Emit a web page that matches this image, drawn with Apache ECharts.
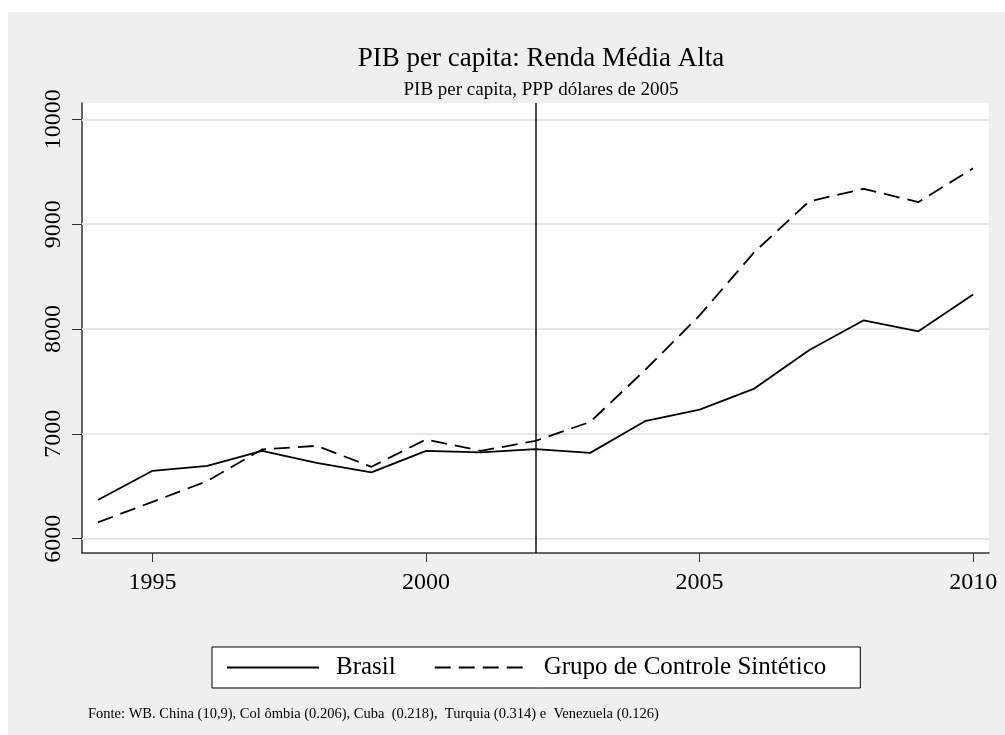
<!DOCTYPE html>
<html>
<head>
<meta charset="utf-8">
<script src="https://cdn.jsdelivr.net/npm/echarts@6/dist/echarts.min.js"></script>
<style>
  html, body { margin: 0; padding: 0; background: #fff; }
  #frame { position: absolute; left: 8px; top: 12px; right: 0; bottom: 0; background: #efefef; }
  #chart { position: absolute; left: 0; top: 0; width: 1005px; height: 735px; }
</style>
</head>
<body>
<div id="frame"></div>
<div id="chart"></div>
<script>
const years = [1994, 1995, 1996, 1997, 1998, 1999, 2000, 2001, 2002, 2003, 2004, 2005, 2006, 2007, 2008, 2009, 2010];
const brasil = [6369, 6648, 6695, 6838, 6724, 6632, 6838, 6823, 6854, 6819, 7121, 7232, 7432, 7797, 8083, 7978, 8328];
const sintetico = [6156, 6352, 6550, 6851, 6886, 6686, 6947, 6838, 6933, 7114, 7607, 8130, 8733, 9216, 9337, 9210, 9533];
const xTicks = [1995, 2000, 2005, 2010];
const yTicks = [6000, 7000, 8000, 9000, 10000];
const treatmentYear = 2002;
const footnote = "Fonte: WB. China (10,9), Col ômbia (0.206), Cuba  (0.218),  Turquia (0.314) e  Venezuela (0.126)";

const serif = "'Liberation Serif', 'DejaVu Serif', serif";
const chart = echarts.init(document.getElementById("chart"));

const pairs = (vals) => years.map((y, i) => [y, vals[i]]);

const option = {
  backgroundColor: "transparent",
  animation: false,
  textStyle: { fontFamily: serif },
  title: [
    {
      text: "PIB per capita: Renda Média Alta",
      subtext: "PIB per capita, PPP dólares de 2005",
      left: 536,
      textAlign: "center",
      top: 40,
      itemGap: 9,
      textStyle: { fontFamily: serif, fontSize: 27, fontWeight: "normal", color: "#000" },
      subtextStyle: { fontFamily: serif, fontSize: 19, color: "#000" },
    },
    {
      text: footnote,
      left: 88,
      top: 707,
      padding: 0,
      textStyle: { fontFamily: serif, fontSize: 14.5, fontWeight: "normal", color: "#000" },
    },
  ],
  legend: {
    left: 212,
    top: 647,
    padding: [8, 34, 8, 14],
    backgroundColor: "#fff",
    borderColor: "#000",
    borderWidth: 1,
    borderRadius: 0,
    itemWidth: 92,
    itemHeight: 14,
    itemGap: 38,
    itemStyle: { opacity: 0 },
    lineStyle: { width: 2 },
    textStyle: { fontFamily: serif, fontSize: 25, color: "#000", padding: [0, 0, 0, 12] },
    data: ["Brasil", "Grupo de Controle Sintético"],
  },
  grid: { left: 82, top: 103, right: 16, bottom: 182, backgroundColor: "#fff", show: true, borderWidth: 0 },
  xAxis: {
    type: "value",
    min: 1993.71,
    max: 2010.29,
    axisLine: { lineStyle: { color: "#333", width: 1.5 } },
    axisTick: { show: true, length: 9, lineStyle: { color: "#333" }, customValues: xTicks },
    axisLabel: { fontFamily: serif, fontSize: 24, color: "#000", margin: 18, customValues: xTicks, formatter: (v) => String(v) },
    splitLine: { show: false },
  },
  yAxis: {
    type: "value",
    min: 5864,
    max: 10155,
    axisLine: { show: true, lineStyle: { color: "#333", width: 1.5 } },
    axisTick: { show: true, length: 10, lineStyle: { color: "#333" }, customValues: yTicks },
    axisLabel: { fontFamily: serif, fontSize: 24, color: "#000", rotate: 90, margin: 16, customValues: yTicks, formatter: (v) => String(v) },
    splitLine: { show: false },
  },
  series: [
    {
      name: "Brasil",
      type: "line",
      data: pairs(brasil),
      symbol: "none",
      lineStyle: { color: "#000", width: 1.8, type: "solid" },
      itemStyle: { color: "#000" },
      markLine: {
        silent: true,
        symbol: "none",
        label: { show: false },
        data: yTicks.map((v) => ({ yAxis: v, lineStyle: { color: "#e6e6e6", width: 2, type: "solid" } }))
          .concat([{ xAxis: treatmentYear, lineStyle: { color: "#111", width: 1.5, type: "solid" } }]),
        z: 1,
      },
    },
    {
      name: "Grupo de Controle Sintético",
      type: "line",
      data: pairs(sintetico),
      symbol: "none",
      lineStyle: { color: "#000", width: 1.8, type: [16, 8] },
      itemStyle: { color: "#000" },
    },
  ],
};

chart.setOption(option);
</script>
</body>
</html>
